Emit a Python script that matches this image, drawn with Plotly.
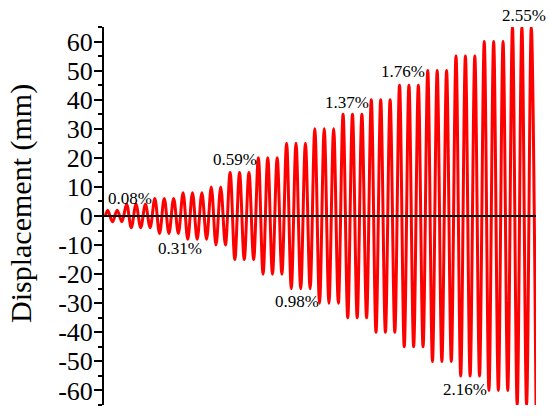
import plotly.graph_objects as go

# Peak amplitude (mm) of each loading cycle
cycle_amplitudes = [2, 2,
                    4, 4, 4,
                    6, 6, 6,
                    8, 8, 8,
                    10, 10,
                    15, 15, 15,
                    20, 20, 20,
                    25, 25, 25,
                    30, 30, 30,
                    35, 35, 35,
                    40, 40, 40,
                    45, 45, 45,
                    50, 50, 50,
                    55, 55, 55,
                    60, 60, 60,
                    65, 65, 65]

# Drift labels and where they sit (cycle index, displacement)
drift_labels = ["0.08%", "0.31%", "0.59%", "0.98%", "1.37%", "1.76%", "2.16%", "2.55%"]
drift_label_x = [2.56, 7.93, 13.77, 20.31, 25.62, 31.62, 38.21, 44.48]
drift_label_y = [6.1, -11.1, 19.4, -29.5, 39.0, 49.8, -59.6, 69.1]

y_tick_vals = [60, 50, 40, 30, 20, 10, 0, -10, -20, -30, -40, -50, -60]
y_tick_text = ["60", "50", "40", "30", "20", "10", "0", "-10", "-20", "-30", "-40", "-50", "-60"]

Y_RANGE = [-65, 65]
SERIF = "Liberation Serif, Times New Roman, Times, serif"

# Peak/trough sequence: start at 0, then +A at quarter cycle, -A at three quarters
t = [0.0]
d = [0.0]
for i, a in enumerate(cycle_amplitudes):
    t.append(i + 0.25)
    d.append(a)
    t.append(i + 0.75)
    d.append(-a)

t_end = t[-1]
x_start = -0.15

fig = go.Figure()
fig.add_trace(go.Scatter(x=t, y=d, mode="lines",
                         line=dict(color="#ff0000", width=3, shape="spline", smoothing=1),
                         hoverinfo="skip", showlegend=False))
fig.add_trace(go.Scatter(x=[x_start, t_end], y=[0, 0], mode="lines",
                         line=dict(color="black", width=2),
                         hoverinfo="skip", showlegend=False))

for txt, xx, yy in zip(drift_labels, drift_label_x, drift_label_y):
    # paper y so labels just outside the axis range are still drawn
    yp = (yy - Y_RANGE[0]) / (Y_RANGE[1] - Y_RANGE[0])
    fig.add_annotation(x=xx, y=yp, xref="x", yref="paper", text=txt, showarrow=False,
                       xanchor="center", yanchor="middle",
                       font=dict(family=SERIF, size=17, color="black"))

fig.add_annotation(x=-0.192, y=0.532, xref="paper", yref="paper",
                   text="Displacement (mm)", textangle=-90, showarrow=False,
                   xanchor="center", yanchor="middle",
                   font=dict(family=SERIF, size=30, color="black"))

fig.update_layout(
    width=550, height=416,
    font=dict(family=SERIF, color="black"),
    margin=dict(l=104, r=14, t=27, b=11),
    paper_bgcolor="white", plot_bgcolor="white",
    xaxis=dict(range=[x_start, t_end], visible=False, showgrid=False, zeroline=False),
    yaxis=dict(range=Y_RANGE, tickmode="array", tickvals=y_tick_vals, ticktext=y_tick_text,
               showgrid=False, zeroline=False,
               showline=True, linecolor="black", linewidth=2,
               ticks="outside", ticklen=8, tickwidth=2, tickcolor="black",
               tickfont=dict(family=SERIF, size=26, color="black"),
               ticklabelstandoff=-4,
               minor=dict(dtick=5, tick0=0, ticks="outside", ticklen=4, tickwidth=1.5, tickcolor="black"),
               layer="above traces"),
)

fig.write_html("out.html", config={"displayModeBar": False},
               post_script="document.body.style.margin='0';document.body.style.overflow='hidden';")
